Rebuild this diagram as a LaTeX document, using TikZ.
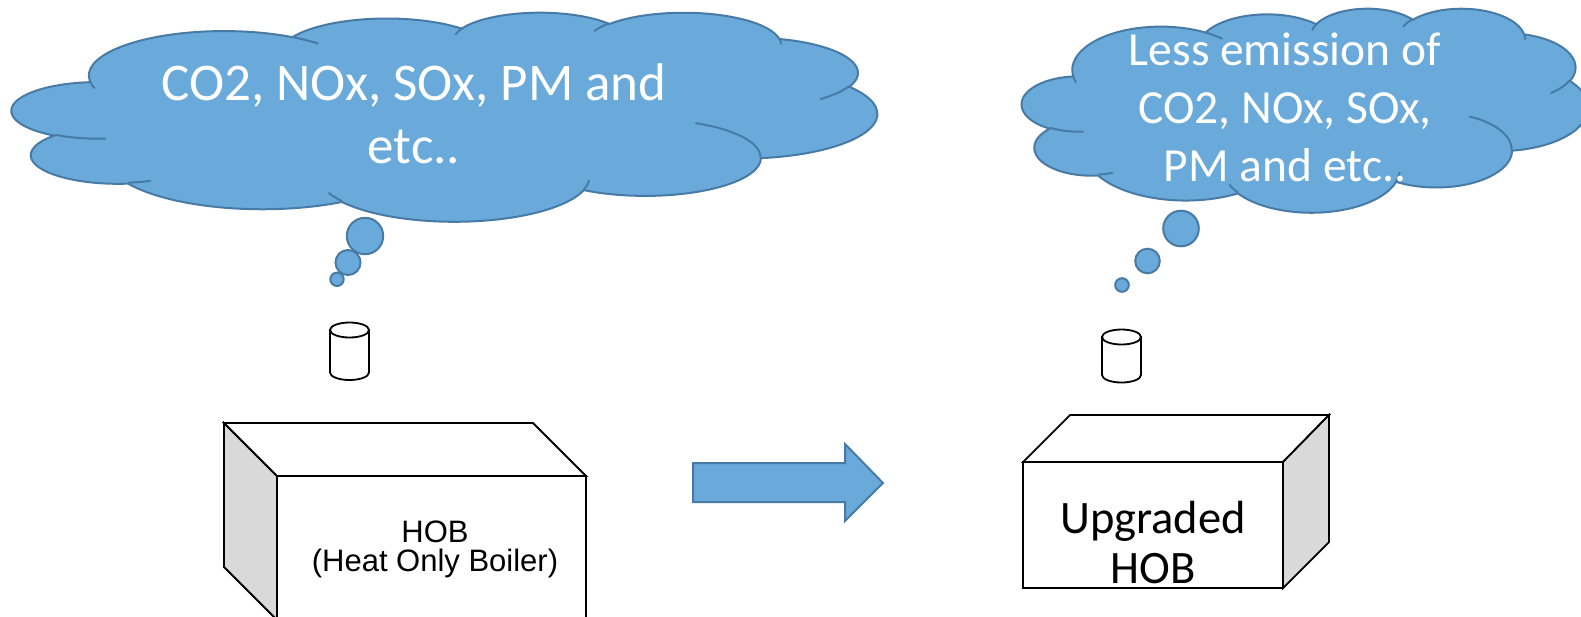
\documentclass[tikz,border=0pt]{standalone}
\usepackage{fontspec}
\newfontfamily\calibri{Carlito}
\newfontfamily\arialf{Liberation Sans}
\newcommand\stacklines[2]{\vtop{\baselineskip=#1\lineskiplimit=-1000pt\relax\halign{\hfil##\hfil\cr#2\crcr}}}
\definecolor{cloudfill}{RGB}{106,170,219}
\definecolor{cloudline}{RGB}{72,122,166}
\definecolor{sidegray}{RGB}{217,217,217}
\tikzset{
  cloudpart/.style={fill=cloudfill, draw=cloudline, line width=2pt},
  cloudinner/.style={draw=cloudline, line width=2pt},
  boxface/.style={fill=white, draw=black, line width=1.8pt, line join=miter},
  sideface/.style={fill=sidegray, draw=black, line width=1.8pt, line join=miter},
  cylpart/.style={fill=white, draw=black, line width=1.8pt},
  textlabel/.style={inner sep=0pt, anchor=base},
}
% PowerPoint-style cloud in a 43.2 x 43.2 box: #1,#2 = left, top (px); #3,#4 = width, height (px)
\newcommand\pptcloud[4]{%
\begin{scope}[xshift=#1pt, yshift=-#2pt, x=#3pt/43.2, y=-#4pt/43.2]
\path[cloudpart] (3.900,14.370)
  arc[start angle=-187.74, end angle=-59.63, x radius=6.753, y radius=9.190]
  arc[start angle=-152.02, end angle=-45.44, x radius=5.333, y radius=7.267]
  arc[start angle=-153.49, end angle=-37.32, x radius=4.365, y radius=5.945]
  arc[start angle=-139.71, end angle=-10.21, x radius=4.857, y radius=6.595]
  arc[start angle=-74.77, end angle=23.21, x radius=5.333, y radius=7.273]
  arc[start angle=-37.53, end angle=81.87, x radius=6.775, y radius=9.220]
  arc[start angle=0.46, end angle=121.98, x radius=5.785, y radius=7.867]
  arc[start angle=16.85, end angle=146.25, x radius=6.752, y radius=9.215]
  arc[start angle=58.98, end angle=150.19, x radius=7.720, y radius=10.543]
  arc[start angle=-276.70, end angle=-136.89, x radius=4.360, y radius=5.918]
  arc[start angle=-239.65, end angle=-95.89, x radius=4.345, y radius=5.945]
  -- cycle;
\draw[cloudinner]
  (4.693,26.177) arc[start angle=85.55, end angle=120.36, x radius=4.345, y radius=5.945]
  (6.928,34.899) arc[start angle=68.24, end angle=83.30, x radius=4.360, y radius=5.918]
  (16.478,39.090) arc[start angle=146.23, end angle=158.47, x radius=6.752, y radius=9.215]
  (28.827,34.751) arc[start angle=4.74, end angle=16.85, x radius=6.752, y radius=9.215]
  (34.129,22.954) arc[start angle=-64.03, end angle=0.46, x radius=5.785, y radius=7.867]
  (41.798,15.354) arc[start angle=23.21, end angle=49.63, x radius=5.333, y radius=7.273]
  (38.324,5.426) arc[start angle=-10.21, end angle=0.82, x radius=4.857, y radius=6.595]
  (29.078,3.952) arc[start angle=-156.29, end angle=-139.71, x radius=4.857, y radius=6.595]
  (22.141,4.720) arc[start angle=-167.73, end angle=-152.35, x radius=4.365, y radius=5.945]
  (14.000,5.192) arc[start angle=-59.63, end angle=-45.74, x radius=6.753, y radius=9.190]
  (4.127,15.789) arc[start angle=163.19, end angle=172.25, x radius=6.753, y radius=9.190];
\end{scope}}
\begin{document}
\begin{tikzpicture}[x=1pt,y=-1pt]
\useasboundingbox (0,0) rectangle (1581,616);
\clip (0,0) rectangle (1581,616);

% ---------- left thought cloud ----------
\pptcloud{12}{12}{865}{209}
\path[cloudpart] (365,236) circle[radius=18.2];
\path[cloudpart] (348,262.5) circle[radius=12.5];
\path[cloudpart] (337,279.3) circle[radius=6.7];
\node[textlabel, text=white, font=\calibri\fontsize{53}{63}\selectfont] (lefttext) at (414,100)
  {\stacklines{63pt}{CO2, NOx, SOx, PM and\cr etc..}};

% ---------- right thought cloud ----------
\pptcloud{1022}{8}{566}{204}
\path[cloudpart] (1181,228.5) circle[radius=17.8];
\path[cloudpart] (1147.5,261) circle[radius=12.3];
\path[cloudpart] (1122,285) circle[radius=6.8];
\node[textlabel, text=white, font=\calibri\fontsize{47.5}{58.5}\selectfont] (righttext) at (1285,65)
  {\stacklines{58.3pt}{Less emission of\cr CO2, NOx, SOx,\cr PM and etc..}};

% ---------- chimneys (cylinders) ----------
\path[cylpart] (330,330) -- (330,372.5) arc[start angle=180, end angle=0, x radius=19.5, y radius=7.5] -- (369,330) -- cycle;
\draw[cylpart] (349.5,330) ellipse[x radius=19.5, y radius=7.5];
\path[cylpart] (1102,337) -- (1102,375) arc[start angle=180, end angle=0, x radius=19.5, y radius=7.5] -- (1141,337) -- cycle;
\draw[cylpart] (1121.5,337) ellipse[x radius=19.5, y radius=7.5];

% ---------- left box: HOB ----------
\path[sideface] (224,423) -- (277,476) -- (277,620) -- (224,567) -- cycle;
\path[boxface] (224,423) -- (533,423) -- (586,476) -- (277,476) -- cycle;
\path[boxface] (277,476) rectangle (586,620);
\node[textlabel, font=\arialf\fontsize{31}{34}\selectfont] (hobtext) at (435,542.5)
  {\stacklines{28.5pt}{HOB\cr (Heat Only Boiler)}};

% ---------- block arrow ----------
\path[cloudpart, line join=miter] (693,463) -- (845,463) -- (845,444) -- (883,483) -- (845,521) -- (845,502) -- (693,502) -- cycle;

% ---------- right box: Upgraded HOB ----------
\path[boxface] (1023,462) rectangle (1283,588);
\path[boxface] (1023,462) -- (1070,415) -- (1329,415) -- (1283,462) -- cycle;
\path[sideface] (1283,462) -- (1329,415) -- (1329,542) -- (1283,588) -- cycle;
\node[textlabel, font=\calibri\fontsize{46.5}{50}\selectfont] (upgtext) at (1153,533)
  {\stacklines{50pt}{Upgraded\cr HOB}};
\end{tikzpicture}
\end{document}
